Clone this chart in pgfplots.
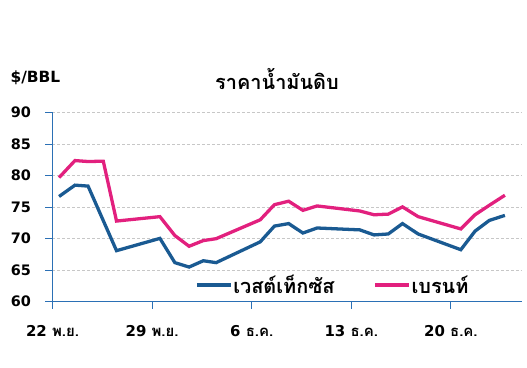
\documentclass[border=0pt]{standalone}
\usepackage{fontspec}
\usepackage{pgfplots}
\pgfplotsset{compat=1.18}
\setmainfont{DejaVu Sans}
\newfontfamily\thaifont[Script=Thai]{Loma}
\definecolor{wti}{HTML}{1A5A92}
\definecolor{brent}{HTML}{E2207E}
\definecolor{axisblue}{HTML}{2B70B5}
\begin{document}
\begin{tikzpicture}
\path[use as bounding box] (0,0) rectangle (527bp,368bp);
\node[anchor=west,font=\bfseries\fontsize{15.5}{15.5}\selectfont] at (7bp,290bp) {\$/BBL};
\node[font=\thaifont\bfseries\fontsize{20}{20}\selectfont] at (277bp,289bp) {ราคาน้ำมันดิบ};
\begin{axis}[
  at={(52.5bp,66.3bp)}, anchor=south west,
  scale only axis, width=469.5bp, height=189bp,
  xmin=0, xmax=33, ymin=60, ymax=90,
  axis lines=left, axis line style={-, axisblue, line width=1.1pt},
  xtick={0,7,14,21,28},
  xticklabels={22 {\thaifont พ.ย.}, 29 {\thaifont พ.ย.}, 6 {\thaifont ธ.ค.}, 13 {\thaifont ธ.ค.}, 20 {\thaifont ธ.ค.}},
  ytick={60,65,...,90},
  tick align=outside, major tick length=7bp,
  tick style={axisblue, line width=1pt},
  xticklabel style={font=\bfseries\fontsize{15}{15}\selectfont, yshift=-13bp},
  yticklabel style={font=\bfseries\fontsize{14.5}{14.5}\selectfont, xshift=-11bp},
  /pgf/number format/assume math mode=true,
  ymajorgrids, grid style={densely dashed, black!22, line width=0.6pt},
  legend columns=2,
  legend style={draw=none, fill=none, at={(0.3035,0.088)}, anchor=west, inner sep=0pt,
    nodes={inner sep=0.8pt},
    font=\thaifont\bfseries\fontsize{20}{20}\selectfont, /tikz/every even column/.append style={column sep=38bp}},
  legend image code/.code={\draw[#1] (0bp,0bp) -- (34bp,0bp);},
  legend cell align=left,
]
\addplot[wti, line width=3.3pt] coordinates {
(0.46,76.7) (1.58,78.5) (2.5,78.35) (4.5,68.1) (7.55,70.05) (8.6,66.2) (9.6,65.5) (10.6,66.5) (11.5,66.2)
(14.6,69.5) (15.6,72.0) (16.6,72.4) (17.6,70.9) (18.6,71.7) (21.6,71.4) (22.6,70.6) (23.6,70.75) (24.6,72.4)
(25.7,70.75) (28.7,68.25) (29.7,71.2) (30.7,72.9) (31.8,73.7)};
\addlegendentry{เวสต์เท็กซัส}
\addplot[brent, line width=3.3pt] coordinates {
(0.46,79.7) (1.58,82.4) (2.5,82.25) (3.57,82.3) (4.5,72.8) (7.55,73.5) (8.6,70.5) (9.6,68.8) (10.6,69.7) (11.5,70.0)
(14.6,73.0) (15.6,75.4) (16.6,75.95) (17.6,74.5) (18.6,75.2) (21.6,74.4) (22.6,73.8) (23.6,73.9) (24.6,75.05)
(25.7,73.5) (28.7,71.55) (29.7,73.8) (30.7,75.3) (31.8,76.9)};
\addlegendentry{เบรนท์}
\end{axis}
\end{tikzpicture}
\end{document}
